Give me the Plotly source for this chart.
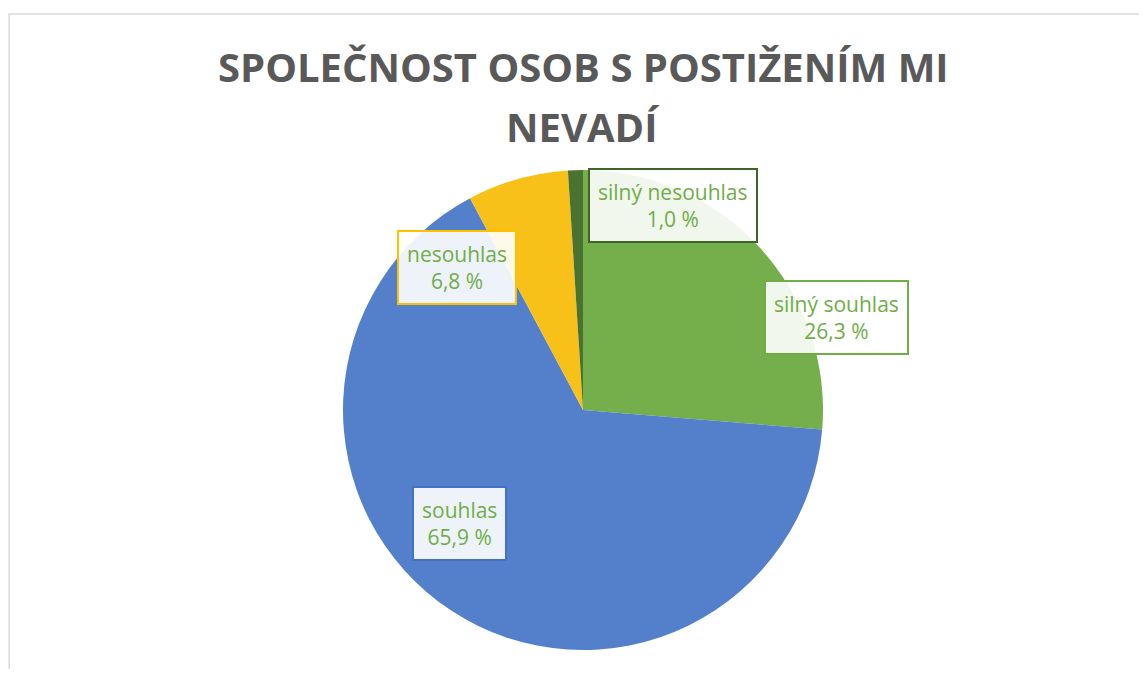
import plotly.graph_objects as go

# Data (clockwise from 12 o'clock)
categories = ["silný souhlas", "souhlas", "nesouhlas", "silný nesouhlas"]
values = [26.3, 65.9, 6.8, 1.0]
value_labels = ["26,3 %", "65,9 %", "6,8 %", "1,0 %"]
title_lines = ["SPOLEČNOST OSOB S POSTIŽENÍM MI", "NEVADÍ"]

colors = ["#75AF4C", "#5480CB", "#F8C11A", "#4A7230"]
border_colors = ["#70AD47", "#4472C4", "#FFC000", "#3F6427"]
label_pos = {  # page-pixel centres of the label boxes
    "silný souhlas": (836, 318),
    "souhlas": (459, 523),
    "nesouhlas": (457, 267),
    "silný nesouhlas": (673, 205),
}

OFF = 8  # page body margin
W, H = 1147 - 2 * OFF, 677 - 2 * OFF


def px_x(x):
    return (x - OFF) / W


def px_y(y):
    return 1 - (y - OFF) / H


cx, cy, r = 583, 410, 240

fig = go.Figure(go.Pie(
    labels=categories,
    values=values,
    sort=False,
    direction="clockwise",
    rotation=0,
    marker=dict(colors=colors, line=dict(width=0)),
    textinfo="none",
    hoverinfo="label+percent",
    showlegend=False,
    domain=dict(x=[px_x(cx - r), px_x(cx + r)], y=[px_y(cy + r), px_y(cy - r)]),
))

annotations = []
for cat, vl, bc in zip(categories, value_labels, border_colors):
    px, py = label_pos[cat]
    annotations.append(dict(
        x=px_x(px), y=px_y(py), xref="paper", yref="paper",
        text=f"{cat}<br>{vl}", showarrow=False,
        font=dict(family="Open Sans", size=21, color="#70AD47"),
        align="center", xanchor="center", yanchor="middle",
        bgcolor="rgba(255,255,255,0.9)", bordercolor=bc, borderwidth=2,
        borderpad=8,
    ))

for line, yc in zip(title_lines, [67, 127]):
    annotations.append(dict(
        x=px_x(583), y=px_y(yc), xref="paper", yref="paper",
        text=f"<b>{line}</b>", showarrow=False,
        font=dict(family="Open Sans", size=40, color="#595959"),
        xanchor="center", yanchor="middle",
    ))

fig.update_layout(
    width=W, height=H,
    margin=dict(l=0, r=0, t=0, b=0),
    paper_bgcolor="white",
    plot_bgcolor="white",
    annotations=annotations,
    shapes=[dict(type="rect", xref="paper", yref="paper",
                 x0=0.001, x1=1.05, y0=-0.05, y1=px_y(14),
                 line=dict(color="#D9D9D9", width=1.5))],
)

fig.write_html("out.html")
